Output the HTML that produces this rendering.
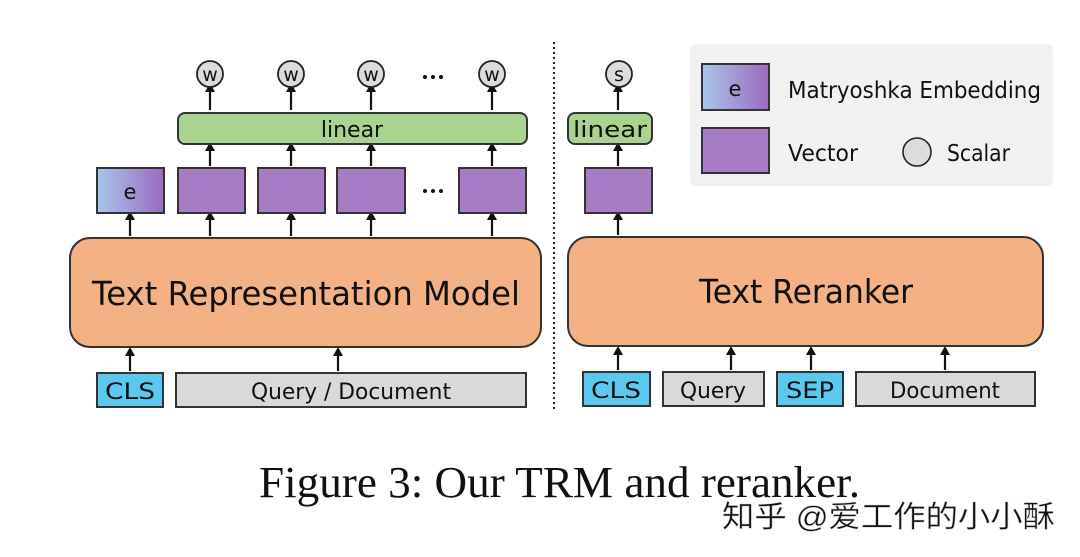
<!DOCTYPE html>
<html><head><meta charset="utf-8"><style>
html,body{margin:0;padding:0;background:#fff;}
svg{display:block;}
text{font-family:"DejaVu Sans","Liberation Sans",sans-serif;fill:#111;}
</style></head><body>
<svg width="1080" height="557" viewBox="0 0 1080 557" xmlns="http://www.w3.org/2000/svg">
<defs>
<linearGradient id="eg" x1="0" x2="1" y1="0" y2="0">
<stop offset="0" stop-color="#a9c6ea"/><stop offset="1" stop-color="#9b6ac0"/>
</linearGradient>
</defs>
<g stroke="#111" stroke-width="2.2" fill="none">
<path d="M210,110 V88 M291,110 V88 M371,110 V88 M492,110 V88"/>
<path d="M210,166 V147 M291,166 V147 M371,166 V147 M492,166 V147"/>
<path d="M130,236 V216 M210,236 V216 M291,236 V216 M371,236 V216 M492,236 V216"/>
<path d="M130,371 V351 M338,371 V351"/>
<path d="M618,110 V88 M618,166 V147 M618,235 V216"/>
<path d="M618,370 V350 M731,370 V350 M811,370 V350 M945,370 V350"/>
</g>
<g fill="#111">
<path d="M205,92 L210,83 L215,92Z M286,92 L291,83 L296,92Z M366,92 L371,83 L376,92Z M487,92 L492,83 L497,92Z"/>
<path d="M205,151 L210,142 L215,151Z M286,151 L291,142 L296,151Z M366,151 L371,142 L376,151Z M487,151 L492,142 L497,151Z"/>
<path d="M125,220 L130,211 L135,220Z M205,220 L210,211 L215,220Z M286,220 L291,211 L296,220Z M366,220 L371,211 L376,220Z M487,220 L492,211 L497,220Z"/>
<path d="M125,356 L130,347 L135,356Z M333,356 L338,347 L343,356Z"/>
<path d="M613,92 L618,83 L623,92Z M613,151 L618,142 L623,151Z M613,220 L618,211 L623,220Z"/>
<path d="M613,355 L618,346 L623,355Z M726,355 L731,346 L736,355Z M806,355 L811,346 L816,355Z M940,355 L945,346 L950,355Z"/>
<circle cx="425" cy="77" r="2"/><circle cx="433" cy="77" r="2"/><circle cx="441" cy="77" r="2"/>
<circle cx="425" cy="191" r="2"/><circle cx="433" cy="191" r="2"/><circle cx="441" cy="191" r="2"/>
</g>
<g fill="#dcdcdc" stroke="#222" stroke-width="1.8">
<circle cx="210" cy="74" r="13"/><circle cx="291" cy="74" r="13"/><circle cx="371" cy="74" r="13"/><circle cx="492" cy="74" r="13"/>
<circle cx="619" cy="74" r="13"/>
</g>
<g font-size="19" text-anchor="middle">
<text x="210" y="81">w</text><text x="291" y="81">w</text><text x="371" y="81">w</text><text x="492" y="81">w</text><text x="619" y="81">s</text>
</g>
<rect x="178" y="113" width="349" height="31" rx="7" fill="#a9d38f" stroke="#333" stroke-width="2"/>
<text x="352" y="137" font-size="22" text-anchor="middle">linear</text>
<rect x="568" y="113" width="84" height="31" rx="7" fill="#a9d38f" stroke="#333" stroke-width="2"/>
<text x="610" y="137" font-size="22" text-anchor="middle" textLength="74" lengthAdjust="spacingAndGlyphs">linear</text>
<g stroke="#333" stroke-width="2">
<rect x="97" y="168" width="67" height="45" fill="url(#eg)"/>
<rect x="178" y="168" width="67" height="45" fill="#a67dc4"/>
<rect x="258" y="168" width="67" height="45" fill="#a67dc4"/>
<rect x="337" y="168" width="68" height="45" fill="#a67dc4"/>
<rect x="459" y="168" width="67" height="45" fill="#a67dc4"/>
<rect x="585" y="168" width="67" height="45" fill="#a67dc4"/>
</g>
<text x="130" y="199" font-size="21" text-anchor="middle" fill="#1a1a4a">e</text>
<rect x="70" y="238" width="471" height="109" rx="20" fill="#f4b183" stroke="#333" stroke-width="2"/>
<text x="306" y="305" font-size="33" text-anchor="middle" textLength="428" lengthAdjust="spacingAndGlyphs">Text Representation Model</text>
<rect x="568" y="237" width="475" height="109" rx="20" fill="#f4b183" stroke="#333" stroke-width="2"/>
<text x="806" y="303" font-size="33" text-anchor="middle" textLength="214" lengthAdjust="spacingAndGlyphs">Text Reranker</text>
<g stroke="#333" stroke-width="2">
<rect x="97" y="373" width="66" height="34" fill="#5bc8f0"/>
<rect x="176" y="373" width="350" height="34" fill="#d9d9d9"/>
<rect x="583" y="372" width="67" height="34" fill="#5bc8f0"/>
<rect x="663" y="372" width="101" height="34" fill="#d9d9d9"/>
<rect x="777" y="372" width="66" height="34" fill="#5bc8f0"/>
<rect x="856" y="372" width="179" height="34" fill="#d9d9d9"/>
</g>
<g font-size="22" text-anchor="middle">
<text x="130" y="399" textLength="50" lengthAdjust="spacingAndGlyphs">CLS</text>
<text x="351" y="399" textLength="200" lengthAdjust="spacingAndGlyphs">Query / Document</text>
<text x="616" y="398" textLength="50" lengthAdjust="spacingAndGlyphs">CLS</text>
<text x="713" y="398" textLength="66" lengthAdjust="spacingAndGlyphs">Query</text>
<text x="810" y="398" textLength="48" lengthAdjust="spacingAndGlyphs">SEP</text>
<text x="945" y="398" textLength="110" lengthAdjust="spacingAndGlyphs">Document</text>
</g>
<line x1="554" y1="42" x2="554" y2="412" stroke="#222" stroke-width="2" stroke-dasharray="2,3"/>
<rect x="690" y="44" width="363" height="142" rx="6" fill="#f1f1f1"/>
<rect x="702" y="64" width="67" height="46" fill="url(#eg)" stroke="#333" stroke-width="2"/>
<text x="735" y="96" font-size="21" text-anchor="middle" fill="#1a1a4a">e</text>
<rect x="702" y="128" width="67" height="45" fill="#a67dc4" stroke="#333" stroke-width="2"/>
<text x="788" y="98" font-size="23" textLength="253" lengthAdjust="spacingAndGlyphs">Matryoshka Embedding</text>
<text x="788" y="161" font-size="23" textLength="70" lengthAdjust="spacingAndGlyphs">Vector</text>
<circle cx="917" cy="152" r="14" fill="#dcdcdc" stroke="#222" stroke-width="1.6"/>
<text x="947" y="161" font-size="23" textLength="63" lengthAdjust="spacingAndGlyphs">Scalar</text>
<text x="259" y="497" font-size="44" style="font-family:'Liberation Serif',serif" textLength="601" lengthAdjust="spacingAndGlyphs">Figure 3: Our TRM and reranker.</text>
<text x="722" y="527" font-size="30" fill="#e8e8e8" stroke="#d2d2d2" stroke-width="0.5" style="font-family:'Liberation Sans','Noto Sans CJK SC',sans-serif" textLength="333" lengthAdjust="spacingAndGlyphs">知乎 @爱工作的小小酥</text>
</svg>
</body></html>
